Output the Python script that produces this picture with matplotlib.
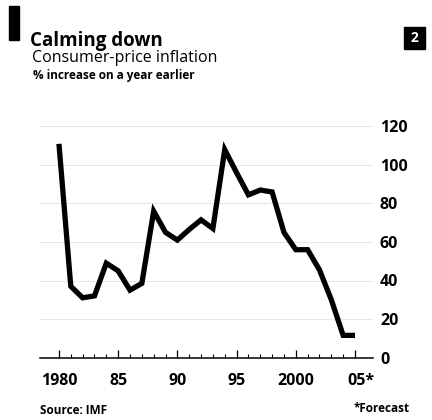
import matplotlib
matplotlib.use('Agg')
import matplotlib.pyplot as plt
import matplotlib.transforms as mtransforms
from matplotlib.patches import Rectangle

# Consumer-price inflation, % increase on a year earlier (IMF, 2005 forecast)
years = list(range(1980, 2006))
inflation = [111, 37, 31, 32, 49, 45, 35, 38.5, 76, 65,
             61, 66.5, 71.5, 67, 108, 96, 84.5, 87, 86, 65,
             56, 56, 45.5, 30, 11.5, 11.5]

major_years = [1980, 1985, 1990, 1995, 2000, 2005]
year_labels = ['1980', '85', '90', '95', '2000', '05*']
y_ticks = [0, 20, 40, 60, 80, 100, 120]

plt.rcParams['font.family'] = ['Open Sans', 'DejaVu Sans']

fig = plt.figure(figsize=(4.32, 4.20), dpi=100)
fig.patch.set_facecolor('white')
ax = fig.add_axes([40 / 432, 62.5 / 420, 333 / 432, 231 / 420])

# faint gridlines
for v in y_ticks[1:]:
    ax.axhline(v, color='#e2e2e2', lw=0.6, zorder=0)

# the inflation line
ax.plot(years, inflation, color='black', lw=3.8, solid_joinstyle='miter',
        solid_capstyle='butt', clip_on=False, zorder=3)

ax.set_xlim(1978.4, 2006.52)
ax.set_ylim(0, 120)

# axes and ticks
for side in ['top', 'left', 'right']:
    ax.spines[side].set_visible(False)
ax.spines['bottom'].set_linewidth(1.1)
ax.spines['bottom'].set_color('black')

ax.set_xticks(years, minor=True)
ax.set_xticks(major_years)
ax.set_xticklabels(year_labels, fontsize=11.5, fontweight='bold')
ax.tick_params(axis='x', which='major', direction='in', length=6, width=0.9, pad=11)
ax.tick_params(axis='x', which='minor', direction='in', length=3, width=0.8)

# shift "05*" so the 05 sits under its tick
lbl = ax.get_xticklabels()[-1]
lbl.set_transform(lbl.get_transform() + mtransforms.ScaledTranslation(4 / 72, 0, fig.dpi_scale_trans))

ax.yaxis.tick_right()
ax.set_yticks(y_ticks)
ax.set_yticklabels([str(v) for v in y_ticks], fontsize=11.5, fontweight='bold')
ax.tick_params(axis='y', length=0, pad=5)

# header
fig.patches.append(Rectangle((9 / 432, 1 - 40 / 420), 10 / 432, 34 / 420,
                             transform=fig.transFigure, color='black'))
fig.text(30 / 432, 1 - 46 / 420, 'Calming down', fontsize=13.5, fontweight='bold', va='baseline')
fig.text(32 / 432, 1 - 62 / 420, 'Consumer-price inflation', fontsize=11.5, va='baseline')
fig.text(33 / 432, 1 - 79 / 420, '% increase on a year earlier', fontsize=8.5, fontweight='bold', va='baseline')

# chart number box
fig.patches.append(Rectangle((404 / 432, 1 - 49 / 420), 21 / 432, 22 / 420,
                             transform=fig.transFigure, color='black'))
fig.text(414.5 / 432, 1 - 38 / 420, '2', color='white', fontsize=10, fontweight='bold',
         ha='center', va='center')

# footer
fig.text(40 / 432, 1 - 410 / 420, 'Source: IMF', fontsize=8.5, fontweight='bold', va='center')
fig.text(410 / 432, 1 - 408 / 420, '*Forecast', fontsize=8.5, fontweight='bold', va='center', ha='right')

fig.savefig('out.png', dpi=100)
